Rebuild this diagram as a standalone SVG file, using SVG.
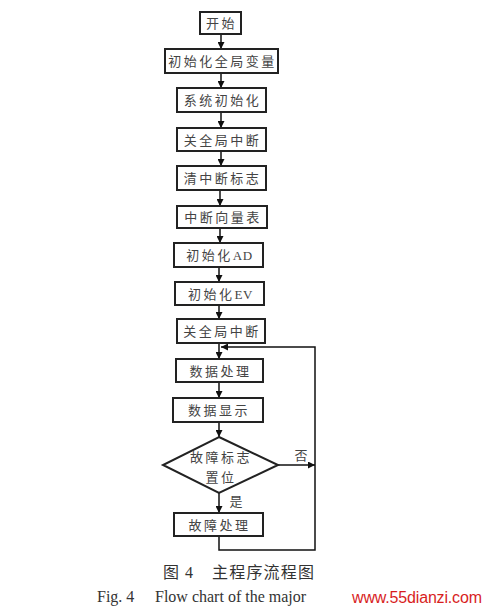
<svg xmlns="http://www.w3.org/2000/svg" width="486" height="609" viewBox="0 0 486 609">
<style>
.box{fill:#fff;stroke:#222;stroke-width:2}
.t{font-family:"Liberation Serif","Noto Sans CJK SC",serif;font-size:13px;fill:#444;text-anchor:middle;letter-spacing:2.5px}
.la{letter-spacing:0.5px}
.c{stroke:#111;stroke-width:1.5;fill:none}
.cap{font-family:"Liberation Serif","Noto Sans CJK SC",serif;fill:#333}
</style>
<defs>
<marker id="ah" viewBox="0 0 10 10" refX="10" refY="5" markerWidth="7" markerHeight="7" markerUnits="userSpaceOnUse" orient="auto">
<path d="M0,0 L10,5 L0,10 z" fill="#111"/>
</marker>
</defs>
<rect width="486" height="609" fill="#fff"/>
<g id="connectors">
<line class="c" x1="221" y1="34" x2="221" y2="49" marker-end="url(#ah)"/>
<line class="c" x1="221" y1="73" x2="221" y2="88" marker-end="url(#ah)"/>
<line class="c" x1="221" y1="112" x2="221" y2="128" marker-end="url(#ah)"/>
<line class="c" x1="221" y1="151" x2="221" y2="166" marker-end="url(#ah)"/>
<line class="c" x1="220" y1="190" x2="220" y2="206" marker-end="url(#ah)"/>
<line class="c" x1="220" y1="228" x2="220" y2="243" marker-end="url(#ah)"/>
<line class="c" x1="219" y1="267" x2="219" y2="282" marker-end="url(#ah)"/>
<line class="c" x1="219" y1="305" x2="219" y2="319" marker-end="url(#ah)"/>
<line class="c" x1="219" y1="343" x2="219" y2="359" marker-end="url(#ah)"/>
<line class="c" x1="219" y1="382" x2="219" y2="398" marker-end="url(#ah)"/>
<line class="c" x1="219" y1="422" x2="219" y2="437" marker-end="url(#ah)"/>
<line class="c" x1="219" y1="493" x2="219" y2="513" marker-end="url(#ah)"/>
<line class="c" x1="278" y1="465" x2="315" y2="465" marker-end="url(#ah)"/>
<polyline class="c" points="219,536 219,550 315,550 315,347 221,347" marker-end="url(#ah)"/>
<text x="301" y="460" class="t" style="letter-spacing:0">否</text>
<text x="236" y="506" class="t" style="letter-spacing:0">是</text>
</g>
<g id="n1"><rect class="box" x="200" y="12" width="41" height="22"/><text class="t" x="221.5" y="28">开始</text></g>
<g id="n2"><rect class="box" x="165" y="49" width="113" height="24"/><text class="t" x="222.5" y="66">初始化全局变量</text></g>
<g id="n3"><rect class="box" x="177" y="88" width="89" height="24"/><text class="t" x="222.5" y="105">系统初始化</text></g>
<g id="n4"><rect class="box" x="177" y="128" width="89" height="23"/><text class="t" x="222.5" y="145">关全局中断</text></g>
<g id="n5"><rect class="box" x="177" y="166" width="89" height="24"/><text class="t" x="222.5" y="183">清中断标志</text></g>
<g id="n6"><rect class="box" x="177" y="206" width="90" height="22"/><text class="t" x="223" y="222">中断向量表</text></g>
<g id="n7"><rect class="box" x="174" y="243" width="89" height="24"/><text class="t" x="219.5" y="260">初始化<tspan class="la">AD</tspan></text></g>
<g id="n8"><rect class="box" x="175" y="282" width="89" height="23"/><text class="t" x="220.5" y="299">初始化<tspan class="la">EV</tspan></text></g>
<g id="n9"><rect class="box" x="177" y="319" width="88" height="24"/><text class="t" x="222" y="336">关全局中断</text></g>
<g id="n10"><rect class="box" x="176" y="359" width="87" height="23"/><text class="t" x="220.5" y="376">数据处理</text></g>
<g id="n11"><rect class="box" x="173" y="398" width="90" height="24"/><text class="t" x="219" y="415">数据显示</text></g>
<g id="n12"><polygon class="box" points="219,437 278,465 219,493 163,465"/><text class="t" x="221" y="462">故障标志</text><text class="t" x="221" y="482">置位</text></g>
<g id="n13"><rect class="box" x="174" y="513" width="89" height="23"/><text class="t" x="219.5" y="530">故障处理</text></g>
<g id="caption">
<text class="cap" x="163" y="578" font-size="16" textLength="30">图 4</text>
<text class="cap" x="212" y="578" font-size="16" textLength="103" letter-spacing="1">主程序流程图</text>
<text class="cap" x="97" y="602" font-size="16">Fig. 4</text>
<text class="cap" x="155" y="602" font-size="16">Flow chart of the major</text>
<text x="352" y="603" font-family="Liberation Sans,sans-serif" font-size="16" fill="#d81e1e" textLength="130">www.55dianzi.com</text>
</g>
</svg>
